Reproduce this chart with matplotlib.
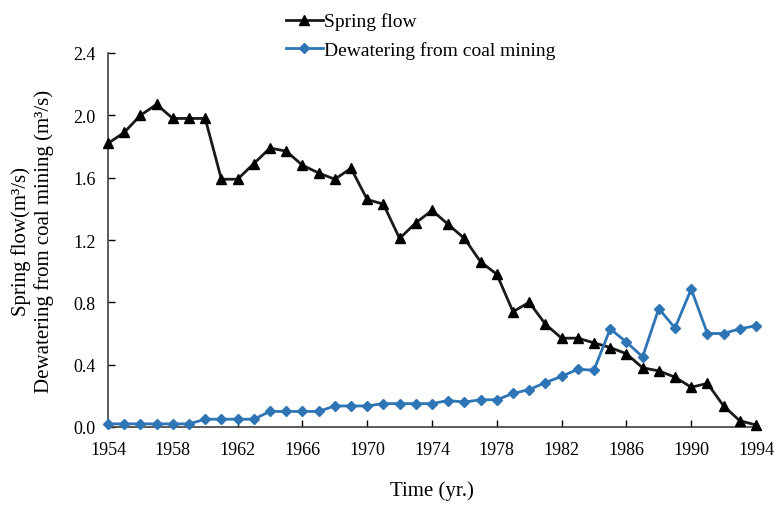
import numpy as np
import matplotlib.pyplot as plt
from matplotlib.ticker import FormatStrFormatter

plt.rcParams['font.family'] = ['Liberation Serif', 'DejaVu Serif']

# data
years = list(range(1954, 1995))
spring_flow = [1.82, 1.89, 2.00, 2.07, 1.98, 1.98, 1.98, 1.59, 1.59, 1.69,
               1.79, 1.77, 1.68, 1.63, 1.59, 1.66, 1.46, 1.43, 1.21, 1.31,
               1.39, 1.30, 1.21, 1.06, 0.98, 0.74, 0.80, 0.66, 0.57, 0.57,
               0.54, 0.51, 0.47, 0.38, 0.36, 0.32, 0.255, 0.28, 0.135, 0.04,
               0.013]
dewatering = [0.02, 0.02, 0.02, 0.02, 0.02, 0.02, 0.05, 0.05, 0.05, 0.05,
              0.10, 0.10, 0.10, 0.10, 0.135, 0.135, 0.135, 0.15, 0.15, 0.15,
              0.15, 0.17, 0.16, 0.175, 0.175, 0.215, 0.24, 0.285, 0.325, 0.37,
              0.365, 0.63, 0.545, 0.45, 0.76, 0.635, 0.885, 0.60, 0.60, 0.63,
              0.65]
xticks = list(range(1954, 1995, 4))
yticks = [0.0, 0.4, 0.8, 1.2, 1.6, 2.0, 2.4]

fig = plt.figure(figsize=(7.74, 5.06), dpi=100)
ax = fig.add_axes([108/774, 1 - 428/506, (756-108)/774, (428-54)/506])

ax.plot(years, spring_flow, color='#1a1a1a', lw=2, marker='^', ms=7,
        mfc='black', mec='black', label='Spring flow', clip_on=False, zorder=3)
ax.plot(years, dewatering, color='#2E75B6', lw=2, marker='D', ms=5,
        mfc='#2E75B6', mec='#2E75B6', label='Dewatering from coal mining',
        clip_on=False, zorder=3)

ax.set_xlim(1954, 1994)
ax.set_ylim(0, 2.4)
ax.set_xticks(xticks)
ax.set_yticks(yticks)
ax.yaxis.set_major_formatter(FormatStrFormatter('%.1f'))
ax.tick_params(direction='in', length=5, width=1, labelsize=13)
ax.tick_params(axis='x', pad=10)
ax.tick_params(axis='y', pad=9)
ax.spines['top'].set_visible(False)
ax.spines['right'].set_visible(False)
for s in ['left', 'bottom']:
    ax.spines[s].set_color('#404040')
    ax.spines[s].set_linewidth(1.2)

ax.set_xlabel('Time (yr.)', fontsize=15, labelpad=16)
ax.set_ylabel('Spring flow(m³/s)\nDewatering from coal mining (m³/s)',
              fontsize=15, labelpad=14)

fig.legend(loc='upper left', bbox_to_anchor=(272/774, 1.0), frameon=False,
           fontsize=14, handlelength=1.9, handletextpad=0.1,
           labelspacing=0.55, borderaxespad=0.3)

fig.savefig('out.png', dpi=100)
